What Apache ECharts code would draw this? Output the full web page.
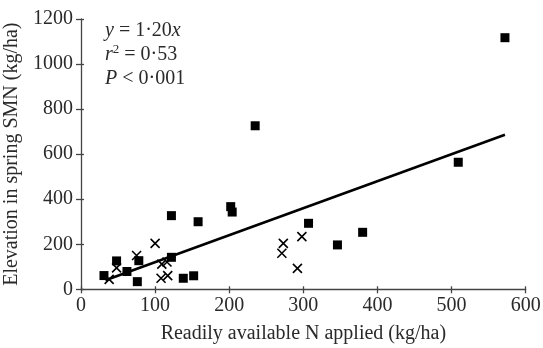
<!DOCTYPE html>
<html><head><meta charset="utf-8">
<script src="https://cdn.jsdelivr.net/npm/echarts@6/dist/echarts.min.js"></script>
<style>html,body{margin:0;padding:0;background:#fff}#c{width:543px;height:348px}</style>
</head><body><div id="c"></div>
<script>
// Squares
const squareX = [31, 48, 62, 76, 78, 122, 138, 152, 122, 158, 202, 204, 235, 307, 346, 380, 509, 572];
const squareY = [61, 126, 79, 34, 127, 142, 49, 60, 327, 300, 367, 343, 726, 293, 197, 253, 564, 1117];
// Crosses
const crossX = [38, 48, 75, 100, 109, 116, 108, 117, 273, 271, 298, 292];
const crossY = [44, 95, 150, 204, 112, 121, 49, 61, 204, 160, 234, 93];
// Regression line endpoints (y = 1.20x)
const lineX = [33, 572];
const lineY = [40, 686];
const xTicks = [0, 100, 200, 300, 400, 500, 600];
const yTicks = [0, 200, 400, 600, 800, 1000, 1200];

const font = '"Liberation Serif","Times New Roman",serif';
const txt = '#2a2a2a';
const fs = 20;
const zip = (a, b) => a.map((v, i) => [v, b[i]]);

const chart = echarts.init(document.getElementById('c'), null, {renderer: 'canvas'});
const axisLine = {show: true, lineStyle: {color: '#444', width: 1.3}};
chart.setOption({
  animation: false,
  backgroundColor: '#fff',
  grid: {left: 81, right: 17.3, top: 19, bottom: 58.7, containLabel: false, outerBoundsMode: 'none'},
  xAxis: [{
    type: 'value', min: xTicks[0], max: xTicks[xTicks.length - 1], interval: 100,
    position: 'bottom',
    name: 'Readily available N applied (kg/ha)', nameLocation: 'middle', nameGap: 34,
    nameTextStyle: {fontFamily: font, fontSize: fs, color: txt},
    axisLine: axisLine,
    axisTick: {show: true, length: 4, lineStyle: {color: '#444', width: 1.3}},
    axisLabel: {fontFamily: font, fontSize: fs, color: txt, margin: 6, formatter: v => String(v)},
    splitLine: {show: false}
  }, {
    type: 'value', min: xTicks[0], max: xTicks[xTicks.length - 1], interval: 100,
    position: 'bottom', offset: 0,
    axisLine: {show: false},
    axisTick: {show: true, inside: true, length: 3, lineStyle: {color: '#444', width: 1.3}},
    axisLabel: {show: false}, splitLine: {show: false}
  }],
  yAxis: [{
    type: 'value', min: yTicks[0], max: yTicks[yTicks.length - 1], interval: 200,
    position: 'left',
    name: 'Elevation in spring SMN (kg/ha)', nameLocation: 'middle', nameGap: 50,
    nameTextStyle: {fontFamily: font, fontSize: fs, color: txt},
    axisLine: axisLine,
    axisTick: {show: true, length: 5, lineStyle: {color: '#444', width: 1.3}},
    axisLabel: {fontFamily: font, fontSize: fs, color: txt, margin: 8, formatter: v => String(v)},
    splitLine: {show: false}
  }, {
    type: 'value', min: yTicks[0], max: yTicks[yTicks.length - 1], interval: 200,
    position: 'left', offset: 0,
    axisLine: {show: false},
    axisTick: {show: true, inside: true, length: 3, lineStyle: {color: '#444', width: 1.3}},
    axisLabel: {show: false}, splitLine: {show: false}
  }],
  series: [{
    type: 'line', data: zip(lineX, lineY), symbol: 'none',
    lineStyle: {color: '#000', width: 2.6}, z: 2
  }, {
    type: 'scatter', data: zip(squareX, squareY), symbol: 'rect', symbolSize: 9,
    itemStyle: {color: '#000', opacity: 1}, z: 3
  }, {
    type: 'scatter', data: zip(crossX, crossY),
    symbol: 'path://M0,0L10,10M10,0L0,10', symbolSize: 9,
    itemStyle: {color: 'none', borderColor: '#000', borderWidth: 1.6, opacity: 1}, z: 3
  }],
  graphic: [{
    type: 'text', left: 105, top: 19,
    style: {
      text: '{i|y} = 1·20{i|x}\n{i|r}{s|2} = 0·53\n{i|P} < 0·001',
      font: fs + 'px ' + font, fill: txt, lineHeight: 24,
      rich: {
        i: {fontFamily: font, fontSize: fs, fontStyle: 'italic', fill: txt, lineHeight: 24},
        s: {fontFamily: font, fontSize: 13, fill: txt, verticalAlign: 'top', lineHeight: 24, padding: [0, 0, 9, 0]}
      }
    }
  }]
});
</script>
</body></html>
